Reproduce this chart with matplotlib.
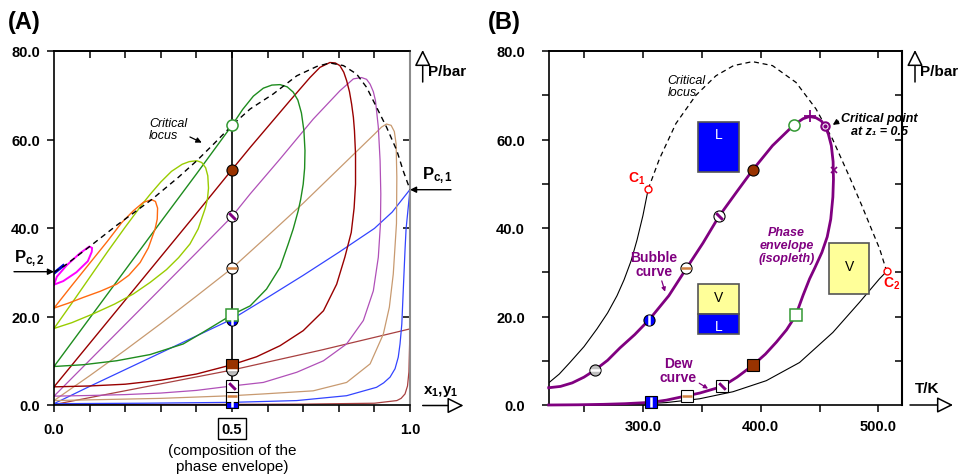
import numpy as np
import matplotlib.pyplot as plt
from matplotlib.patches import Rectangle, FancyArrowPatch

plt.rcParams['font.family'] = ['Liberation Sans', 'DejaVu Sans']
plt.rcParams['mathtext.fontset'] = 'custom'
plt.rcParams['mathtext.rm'] = 'Liberation Sans'
plt.rcParams['mathtext.bf'] = 'Liberation Sans:bold'
plt.rcParams['mathtext.it'] = 'Liberation Sans:italic'

W, H = 959, 477

# ---------------- panel A : P-x,y isotherms (bubble branch, then dew branch back to x=0)
x_500 = [0, 0.008, 0.036, 0.073, 0.099, 0.107, 0.106, 0.095, 0.063, 0.026, 0]
p_500 = [27.2, 29.0, 31.6, 34.3, 35.8, 35.5, 34.6, 32.5, 30.0, 28.0, 27.2]
x_508 = [0, 0.026]
p_508 = [29.8, 31.5]
x_480 = [0, 0.05, 0.1, 0.15, 0.19, 0.223, 0.251, 0.274, 0.285, 0.291, 0.29, 0.284,
         0.265, 0.242, 0.21, 0.176, 0.13, 0.082, 0.04, 0]
p_480 = [21.9, 27.0, 32.0, 37.0, 41.2, 43.9, 45.8, 46.4, 46.0, 44.5, 42.0, 39.8,
         35.5, 32.2, 29.3, 27.3, 25.7, 24.3, 23.0, 21.9]
x_460 = [0, 0.05, 0.1, 0.15, 0.2, 0.25, 0.27, 0.3, 0.33, 0.36, 0.38, 0.401, 0.415, 0.426,
         0.432, 0.434, 0.431, 0.425, 0.405, 0.382, 0.35, 0.316, 0.27, 0.223, 0.17, 0.11,
         0.05, 0]
p_460 = [17.3, 23.0, 28.8, 34.6, 40.2, 45.6, 47.6, 50.4, 52.8, 54.4, 55.0, 55.2, 54.8, 53.6,
         51.8, 49.0, 46.5, 44.5, 39.8, 36.4, 33.3, 30.6, 27.7, 25.1, 22.8, 20.6,
         18.6, 17.3]
x_430 = [0, 0.1, 0.2, 0.3, 0.4, 0.5, 0.53, 0.56, 0.588, 0.612, 0.635, 0.655, 0.672, 0.685,
         0.695, 0.702, 0.705, 0.704, 0.700, 0.693, 0.686, 0.672, 0.658, 0.635, 0.597, 0.551,
         0.5, 0.42, 0.363, 0.27, 0.176, 0.082, 0]
p_430 = [8.7, 19.6, 30.5, 41.4, 52.2, 63.2, 66.8, 69.8, 71.6, 72.3, 72.4, 71.9, 70.7, 68.9,
         66.0, 62.0, 57.5, 53.5, 49.9, 46.5, 43.9, 39.8, 36.4, 31.1, 26.2, 22.4,
         20.4, 16.5, 13.8, 11.4, 10.0, 9.1, 8.7]
x_395 = [0, 0.1, 0.2, 0.3, 0.4, 0.5, 0.551, 0.607, 0.663, 0.719, 0.747, 0.775, 0.79, 0.803,
         0.814, 0.822, 0.83, 0.836, 0.841, 0.844, 0.847, 0.847, 0.843, 0.835, 0.817, 0.794,
         0.757, 0.7, 0.635, 0.569, 0.5, 0.4, 0.3, 0.2, 0.1, 0]
p_395 = [4.1, 13.9, 23.7, 33.5, 43.3, 53.2, 58.2, 63.5, 68.8, 74.0, 76.3, 77.4, 77.3, 76.7,
         75.2, 73.3, 70.8, 68.0, 65.0, 62.0, 56.7, 49.9, 44.5, 39.0, 33.4, 27.3,
         21.3, 16.8, 13.4, 10.9, 9.1, 7.0, 5.6, 4.7, 4.3, 4.1]
x_367 = [0, 0.1, 0.2, 0.3, 0.4, 0.5, 0.551, 0.635, 0.728, 0.803, 0.841, 0.864, 0.878, 0.888,
         0.897, 0.903, 0.911, 0.916, 0.918, 0.917, 0.911, 0.897, 0.869, 0.822, 0.757, 0.682,
         0.588, 0.5, 0.4, 0.3, 0.2, 0.1, 0]
p_367 = [2.0, 10.1, 18.2, 26.3, 34.4, 42.6, 47.7, 55.6, 64.6, 71.0, 73.7, 74.0, 73.6, 72.5,
         70.8, 68.8, 62.8, 55.2, 47.7, 40.9, 33.4, 25.8, 19.1, 13.8, 10.0, 7.4,
         5.1, 4.3, 3.3, 2.7, 2.35, 2.15, 2.0]
x_338 = [0, 0.1, 0.2, 0.3, 0.4, 0.5, 0.6, 0.7, 0.8, 0.9, 0.92, 0.934, 0.947, 0.956, 0.961,
         0.963, 0.962, 0.953, 0.942, 0.925, 0.888, 0.822, 0.728, 0.588, 0.5, 0.3, 0]
p_338 = [1.0, 6.6, 12.4, 18.4, 24.6, 30.9, 38.2, 45.6, 53.4, 61.2, 62.8, 63.5, 63.2, 61.8, 59.0,
         51.5, 41.0, 29.6, 22.1, 16.0, 9.3, 5.1, 3.2, 2.5, 2.1, 1.5, 1.0]
x_310 = [0, 0.1, 0.2, 0.3, 0.4, 0.5, 0.6, 0.7, 0.8, 0.9, 0.95, 1.0, 0.989, 0.986, 0.981,
         0.977, 0.972, 0.967, 0.958, 0.944, 0.926, 0.906, 0.822, 0.682, 0.5, 0.25, 0]
p_310 = [0.3, 4.2, 8.0, 11.8, 15.6, 19.4, 24.3, 29.3, 34.5, 39.9, 43.6, 48.7, 39.8, 35.0, 25.8,
         18.3, 13.8, 10.8, 8.2, 6.3, 5.0, 4.0, 2.1, 1.0, 0.6, 0.4, 0.3]
x_260 = [0, 0.25, 0.5, 0.75, 1.0, 0.997, 0.993, 0.986, 0.975, 0.963, 0.9, 0.7, 0.4, 0]
p_260 = [0.1, 4.0, 7.9, 12.4, 17.2, 7.5, 4.3, 2.5, 1.5, 1.0, 0.4, 0.2, 0.12, 0.1]

x_crit = [0, 0.03, 0.1, 0.176, 0.274, 0.35, 0.401, 0.45, 0.5, 0.551, 0.616, 0.682, 0.738,
          0.775, 0.813, 0.85, 0.878, 0.906, 0.934, 0.963, 0.981, 1.0]
p_crit = [30.0, 31.5, 35.8, 40.6, 46.4, 51.5, 55.2, 59.1, 63.2, 66.9, 70.3, 74.4, 76.5,
          77.3, 76.7, 74.8, 71.8, 67.3, 62.8, 57.5, 52.9, 48.7]

# ---------------- panel B : P-T isopleth z1 = 0.5
T_env = [220, 230, 240, 250, 259.3, 270, 280.5, 293, 305.4, 322, 337, 351, 364.5, 380, 393.5,
         410, 428.2, 436, 441.5, 447, 451.5, 454.5, 457.5, 460, 461.5, 461.8, 461.3, 459.5,
         456.5, 452, 446, 441.5, 436, 429.7, 422, 413.3, 404, 393.5, 380, 367.5, 348.3, 337.5,
         320, 306.8, 285, 266.4, 245, 220]
P_env = [3.9, 4.2, 5.0, 6.3, 7.9, 10.1, 12.9, 15.9, 19.3, 24.7, 30.9, 36.6, 42.6, 48.3, 53.2,
         58.6, 63.3, 64.7, 65.2, 64.9, 64.2, 63.1, 61.2, 58.6, 55.0, 51.0, 47.0, 42.0,
         38.0, 34.5, 31.0, 28.5, 24.8, 20.2, 17.0, 14.2, 11.5, 9.0, 6.3, 4.2, 2.7, 2.1,
         1.1, 0.6, 0.3, 0.15, 0.05, 0.0]
T_critB = [304.5, 314, 328, 345, 362, 377, 393, 410, 430, 447, 461, 475, 486, 494, 501, 507]
P_critB = [48.8, 55.6, 63.6, 70.0, 74.4, 76.7, 77.6, 76.7, 72.9, 66.9, 60.1, 51.8, 45.0,
           39.8, 35.3, 30.2]
T_vp1 = [220, 229, 238, 250, 261, 270, 278, 284, 290, 295, 300, 304.5]
P_vp1 = [5.0, 7.0, 9.6, 13.2, 17.2, 20.8, 24.7, 28.3, 32.6, 37.3, 42.8, 48.8]
T_vp2 = [220, 260, 300, 320, 348, 376.5, 404.8, 433, 461.3, 483.9, 500.8, 507]
P_vp2 = [0.0, 0.05, 0.25, 0.55, 1.4, 3.0, 5.5, 9.6, 16.4, 23.2, 28.5, 30.2]

# bubble / dew points of the z1 = 0.5 mixture for T = 260, 310, 338, 367, 395, 430 K
bub_T = [259.3, 305.4, 337, 364.5, 393.5, 428.2]
bub_P = [7.9, 19.3, 30.9, 42.6, 53.2, 63.2]
dew_T = [306.8, 337.5, 367.5, 393.5, 429.7]
dew_P = [0.6, 2.1, 4.3, 9.1, 20.3]
z1 = 0.5
Tc_mix, Pc_mix = 454.5, 63.1
T_cbar, P_cbar = 441.5, 65.2
T_cthm, P_cthm = 461.9, 53.2
C1 = (304.5, 48.8)
C2 = (507.0, 30.2)

# marker look per isotherm: face, edge, overlay marker, overlay colour
pt_style = [('#C0C0C0', 'black', '_', 'white'),
            ('#0000FF', 'black', '|', 'white'),
            ('white', 'black', '_', '#D08040'),
            ('white', 'black', (2, 2, 45), '#800080'),
            ('#993300', 'black', None, None),
            ('white', '#339933', None, None)]


def fp(px, py):
    return (px / W, 1 - py / H)


def draw_points(ax, xs, ys, marker, styles):
    for x, y, (fc, ec, ov, oc) in zip(xs, ys, styles):
        ax.plot(x, y, marker=marker, ms=8, mfc=fc, mec=ec, mew=1.1 if ec != 'black' else 0.8,
                ls='none', zorder=6, clip_on=False)
        if ov is not None:
            ax.plot(x, y, marker=ov, ms=6.5, color=oc, mew=1.8, ls='none', zorder=7, clip_on=False)


def frame(ax, xt, yt, right_col='black'):
    for s in ax.spines.values():
        s.set_linewidth(1.2)
    ax.tick_params(direction='out', length=5, width=1.1, labelsize=10.5)
    top = ax.secondary_xaxis('top')
    top.set_xticks(xt, labels=[''] * len(xt))
    top.tick_params(direction='in', length=5, width=1.1)
    top.spines['top'].set_linewidth(1.2)
    right = ax.secondary_yaxis('right')
    right.set_yticks(yt, labels=[''] * len(yt))
    right.tick_params(direction='in', length=5, width=1.1)
    right.spines['right'].set_linewidth(1.5)
    right.spines['right'].set_color(right_col)
    ax.spines['right'].set_color(right_col)
    for lab in ax.get_xticklabels() + ax.get_yticklabels():
        lab.set_fontweight('bold')


def hollow_arrow(p0, p1):
    fig.add_artist(FancyArrowPatch(fp(*p0), fp(*p1), transform=fig.transFigure,
                                   arrowstyle='-|>,head_length=0.7,head_width=0.35',
                                   mutation_scale=14, fc='white', ec='black', lw=1.1,
                                   shrinkA=0, shrinkB=0))


fig = plt.figure(figsize=(W / 100, H / 100), dpi=100)
axA = fig.add_axes([54 / W, 1 - 406 / H, 356 / W, 354 / H])
axB = fig.add_axes([548.7 / W, 1 - 406 / H, 353.3 / W, 354 / H])

# ================= panel A
iso = [(x_260, p_260, '#A84040', 0.9), (x_310, p_310, '#3344FF', 0.9),
       (x_338, p_338, '#C89A70', 0.9), (x_367, p_367, '#B050B8', 0.9),
       (x_395, p_395, '#990000', 1.0), (x_430, p_430, '#1E8C1E', 1.0),
       (x_460, p_460, '#99CC00', 1.0), (x_480, p_480, '#FF6A10', 1.0),
       (x_500, p_500, '#FF00FF', 1.4), (x_508, p_508, '#0000CC', 2.2)]
for xs, ps, c, lw in iso:
    axA.plot(xs, ps, color=c, lw=lw, zorder=2)
axA.plot(x_crit, p_crit, color='black', lw=1.0, ls=(0, (4, 3)), zorder=3)
axA.axvline(z1, color='black', lw=1.2, zorder=4)

draw_points(axA, [z1] * len(bub_P), bub_P, 'o', pt_style)
draw_points(axA, [z1] * len(dew_P), dew_P, 's', pt_style[1:])

axA.set_xlim(0, 1)
axA.set_ylim(0, 80)
axA.set_xticks(np.arange(0, 1.01, 0.1))
xl = axA.set_xticklabels(['0.0', '', '', '', '', '0.5', '', '', '', '', '1.0'])
axA.set_yticks([0, 20, 40, 60, 80])
axA.set_yticklabels(['0.0', '20.0', '40.0', '60.0', '80.0'])
axA.tick_params(axis='x', pad=7)
axA.tick_params(axis='y', pad=5)
frame(axA, np.arange(0.1, 0.95, 0.1), [20, 40, 60], right_col='#8C8C8C')
xl[5].set_bbox(dict(boxstyle='square,pad=0.25', fc='white', ec='black', lw=1))

axA.annotate('Critical\nlocus', xy=(0.415, 59.3), xytext=(0.267, 62.3), fontsize=9,
             style='italic', ha='left', va='center', linespacing=1.0,
             arrowprops=dict(arrowstyle='-|>', color='black', lw=0.9, mutation_scale=8,
                             shrinkA=0, shrinkB=0, relpos=(0.85, 0.35)))

fig.text(*fp(232, 459), '(composition of the\nphase envelope)', ha='center', va='center',
         fontsize=11, linespacing=1.1)
fig.text(*fp(8, 22), '(A)', fontsize=17, fontweight='bold', ha='left', va='center')
fig.text(*fp(428, 72), 'P/bar', fontsize=11, fontweight='bold', ha='left', va='center')
hollow_arrow((422.7, 83), (422.7, 51))
fig.text(*fp(423, 392), r'x$_\mathbf{1}$,y$_\mathbf{1}$', fontsize=11, fontweight='bold',
         ha='left', va='center')
hollow_arrow((422.7, 406.5), (463.5, 406.5))
fig.text(*fp(422, 176), r'P$_\mathbf{c,1}$', fontsize=12, fontweight='bold', ha='left', va='center')
fig.add_artist(FancyArrowPatch(fp(451, 190.7), fp(410, 190.7), transform=fig.transFigure,
                               arrowstyle='-|>', mutation_scale=9, color='black', lw=1,
                               shrinkA=0, shrinkB=0))
fig.text(*fp(14, 259), r'P$_\mathbf{c,2}$', fontsize=12, fontweight='bold', ha='left', va='center')
fig.add_artist(FancyArrowPatch(fp(14, 272.7), fp(54, 272.7), transform=fig.transFigure,
                               arrowstyle='-|>', mutation_scale=9, color='black', lw=1,
                               shrinkA=0, shrinkB=0))

# ================= panel B
purple = '#800080'
axB.plot(T_vp1, P_vp1, color='black', lw=0.8, zorder=2)
axB.plot(T_vp2, P_vp2, color='black', lw=0.8, zorder=2)
axB.plot(T_critB, P_critB, color='black', lw=0.9, ls=(0, (4, 3)), zorder=2)
axB.plot(T_env, P_env, color=purple, lw=2.0, zorder=3, clip_on=False)
draw_points(axB, bub_T, bub_P, 'o', pt_style)
draw_points(axB, dew_T, dew_P, 's', pt_style[1:])
axB.plot(T_cbar, P_cbar, marker='+', ms=9, mew=1.3, color=purple, zorder=6)
axB.plot(T_cthm, P_cthm, marker='x', ms=5, mew=1.2, color=purple, zorder=6)
axB.plot(Tc_mix, Pc_mix, marker='o', ms=6, mfc='white', mec=purple, mew=1.5, zorder=6)
axB.plot(Tc_mix, Pc_mix, marker='o', ms=2, color=purple, zorder=7)
for c in (C1, C2):
    axB.plot(*c, marker='o', ms=5, mfc='white', mec='red', mew=1, zorder=6, clip_on=False)

axB.add_patch(Rectangle((346.6, 52.7), 34.8, 11.3, fc='#0000FF', ec='#555555', lw=1.2, zorder=4))
axB.text(364, 61.2, 'L', color='white', fontsize=10, ha='center', va='center', zorder=5)
axB.add_patch(Rectangle((346.6, 20.6), 34.8, 6.7, fc='#FFFF99', ec='#555555', lw=1.2, zorder=4))
axB.add_patch(Rectangle((346.6, 16.0), 34.8, 4.6, fc='#0000FF', ec='#555555', lw=1.2, zorder=4))
axB.text(364, 24.4, 'V', color='black', fontsize=10, ha='center', va='center', zorder=5)
axB.text(364, 17.9, 'L', color='white', fontsize=10, ha='center', va='center', zorder=5)
axB.add_patch(Rectangle((457.9, 25.1), 34.5, 11.4, fc='#FFFF99', ec='#555555', lw=1.2, zorder=4))
axB.text(475.2, 31.5, 'V', color='black', fontsize=10, ha='center', va='center', zorder=5)

axB.text(321, 72.1, 'Critical\nlocus', fontsize=9, style='italic', ha='left', va='center',
         linespacing=1.0)
axB.text(294.5, 51.3, r'C$_\mathbf{1}$', color='red', fontsize=10, fontweight='bold',
         ha='center', va='center')
axB.text(511.5, 27.6, r'C$_\mathbf{2}$', color='red', fontsize=10, fontweight='bold',
         ha='center', va='center')
axB.annotate('Bubble\ncurve', xy=(318.8, 25.6), xytext=(309.3, 31.9), color=purple,
             fontsize=10, fontweight='bold', ha='center', va='center', linespacing=1.05,
             arrowprops=dict(arrowstyle='-|>', color=purple, lw=0.9, mutation_scale=6,
                             shrinkA=0, shrinkB=0, relpos=(0.65, 0.0)))
axB.annotate('Dew\ncurve', xy=(355.3, 3.7), xytext=(329.7, 7.9), color=purple,
             fontsize=10, fontweight='bold', ha='center', va='center', linespacing=1.05,
             arrowprops=dict(arrowstyle='-|>', color=purple, lw=0.9, mutation_scale=6,
                             shrinkA=0, shrinkB=0, relpos=(1.0, 0.1)))
axB.text(422, 36.2, 'Phase\nenvelope\n(isopleth)', color=purple, fontsize=9,
         fontweight='bold', style='italic', ha='center', va='center', linespacing=1.1)
axB.annotate('Critical point\nat z\u2081 = 0.5', xy=(461.2, 63.3), xytext=(500.8, 63.3),
             fontsize=9, fontweight='bold', style='italic', ha='center', va='center',
             linespacing=1.1,
             arrowprops=dict(arrowstyle='-|>', color='black', lw=1, mutation_scale=8,
                             shrinkA=0, shrinkB=0, relpos=(0.0, 0.72)))

axB.set_xlim(220, 520)
axB.set_ylim(0, 80)
axB.set_xticks([250, 300, 350, 400, 450, 500])
axB.set_xticklabels(['', '300.0', '', '400.0', '', '500.0'])
axB.set_yticks(np.arange(0, 81, 10))
axB.set_yticklabels(['0.0', '', '20.0', '', '40.0', '', '60.0', '', '80.0'])
axB.tick_params(axis='x', pad=5)
axB.tick_params(axis='y', pad=12)
frame(axB, [250, 300, 350, 400, 450, 500], np.arange(10, 80, 10))

fig.text(*fp(488, 22), '(B)', fontsize=17, fontweight='bold', ha='left', va='center')
fig.text(*fp(920, 72), 'P/bar', fontsize=11, fontweight='bold', ha='left', va='center')
hollow_arrow((915, 83), (915, 51))
fig.text(*fp(915, 389), 'T/K', fontsize=11, fontweight='bold', ha='left', va='center')
hollow_arrow((910, 406), (953, 406))

fig.savefig('out.png', dpi=100)
